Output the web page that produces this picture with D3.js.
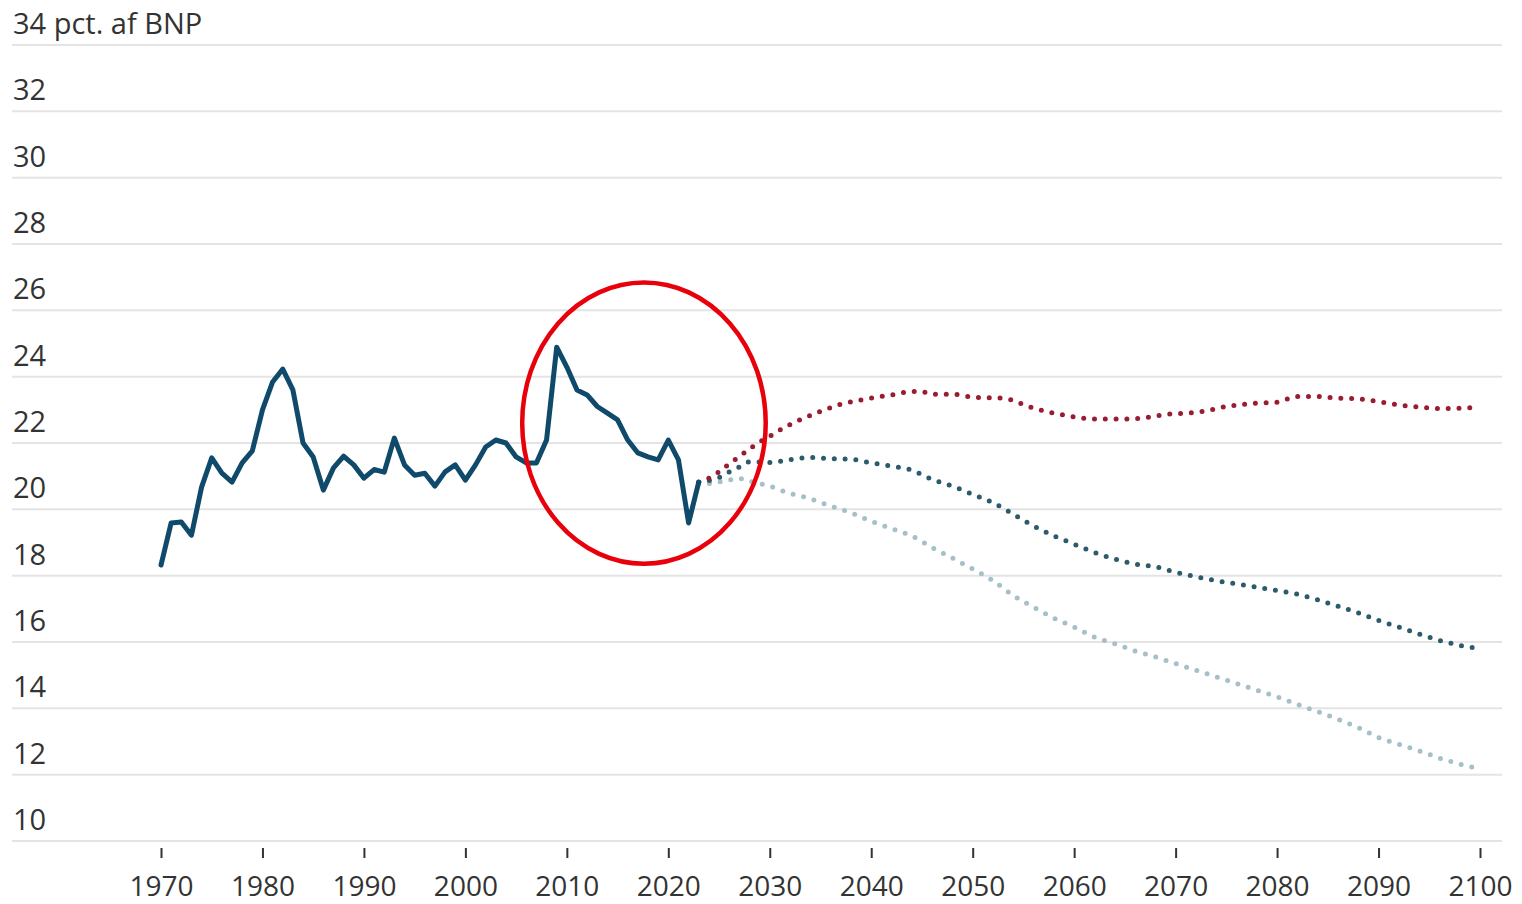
<!DOCTYPE html>
<html><head><meta charset="utf-8">
<script src="https://cdn.jsdelivr.net/npm/d3@7"></script>
<style>
html,body{margin:0;padding:0;background:#fff;}
svg{display:block;}
text{font-family:"Open Sans","Noto Sans",sans-serif;fill:#333;}
</style></head>
<body>
<svg id="chart" width="1522" height="904"></svg>
<script>
// ---- data ----
const yTicks = [10,12,14,16,18,20,22,24,26,28,30,32,34];
const xTicks = [1970,1980,1990,2000,2010,2020,2030,2040,2050,2060,2070,2080,2090,2100];
const unitLabel = "pct. af BNP";

const histYears = [1970,1971,1972,1973,1974,1975,1976,1977,1978,1979,1980,1981,1982,1983,1984,1985,1986,1987,1988,1989,1990,1991,1992,1993,1994,1995,1996,1997,1998,1999,2000,2001,2002,2003,2004,2005,2006,2007,2008,2009,2010,2011,2012,2013,2014,2015,2016,2017,2018,2019,2020,2021,2022,2023];
const histValues = [18.32,19.59,19.62,19.22,20.67,21.55,21.09,20.82,21.4,21.76,23.0,23.84,24.23,23.6,22.0,21.58,20.58,21.25,21.6,21.34,20.94,21.2,21.12,22.15,21.34,21.03,21.09,20.7,21.13,21.34,20.88,21.34,21.88,22.09,22.0,21.58,21.4,21.4,22.09,24.89,24.29,23.6,23.45,23.1,22.9,22.7,22.09,21.7,21.58,21.49,22.09,21.49,19.59,20.82];

const highYears = [2023,2024,2025,2026,2027,2028,2029,2030,2031,2033,2035,2037,2039,2042,2044,2045,2046,2048,2050,2053,2056,2058,2060,2062,2065,2067,2069,2071,2073,2075,2078,2080,2082,2084,2086,2088,2090,2092,2094,2096,2098,2100];
const highValues = [20.82,20.94,21.13,21.37,21.59,21.82,22.03,22.2,22.39,22.7,22.95,23.17,23.3,23.45,23.55,23.55,23.47,23.47,23.38,23.35,23.05,22.9,22.79,22.72,22.72,22.76,22.86,22.9,22.97,23.1,23.2,23.23,23.4,23.4,23.35,23.33,23.25,23.15,23.08,23.04,23.05,23.09];

const midYears = [2023,2025,2026,2027,2028,2029,2030,2032,2034,2036,2038,2040,2042,2044,2046,2048,2050,2052,2054,2056,2058,2060,2062,2064,2066,2068,2070,2072,2074,2076,2078,2080,2082,2084,2086,2088,2090,2092,2094,2096,2098,2100];
const midValues = [20.82,20.96,21.13,21.28,21.43,21.43,21.41,21.5,21.56,21.53,21.51,21.4,21.3,21.18,20.9,20.7,20.45,20.2,19.85,19.5,19.2,18.95,18.7,18.5,18.35,18.27,18.1,17.97,17.85,17.75,17.65,17.55,17.44,17.27,17.08,16.88,16.65,16.45,16.24,16.05,15.9,15.8];

const lowYears = [2023,2024,2025,2026,2027,2028,2030,2032,2034,2036,2038,2040,2042,2044,2046,2048,2050,2052,2054,2056,2058,2060,2062,2064,2066,2068,2070,2072,2074,2076,2078,2080,2082,2084,2086,2088,2090,2092,2094,2096,2098,2100];
const lowValues = [20.82,20.78,20.83,20.88,20.93,20.85,20.7,20.48,20.32,20.1,19.9,19.64,19.42,19.2,18.85,18.53,18.2,17.85,17.4,17.05,16.72,16.45,16.15,15.95,15.73,15.55,15.35,15.15,14.95,14.75,14.55,14.35,14.12,13.9,13.67,13.42,13.12,12.92,12.72,12.5,12.32,12.18];

// ---- layout ----
const svg = d3.select("#chart");
const x = d3.scaleLinear().domain([1970,2100]).range([161,1480]);
const y = d3.scaleLinear().domain([10,34]).range([841,45]);
const gridLeft = 12, gridRight = 1502;

// gridlines
svg.append("g").selectAll("line").data(yTicks).join("line")
  .attr("x1",gridLeft).attr("x2",gridRight)
  .attr("y1",d=>y(d)).attr("y2",d=>y(d))
  .attr("stroke","#e4e4e4").attr("stroke-width",2);

// y labels
svg.append("g").selectAll("text").data(yTicks).join("text")
  .attr("x",13).attr("y",d=>y(d)-11)
  .attr("font-size",29)
  .text(d=> d===34 ? d+" "+unitLabel : d);

// x axis ticks + labels
const xAxis = d3.axisBottom(x).tickValues(xTicks).tickFormat(d3.format("d"))
  .tickSize(10).tickPadding(18);
const gx = svg.append("g").attr("transform","translate(0,848)").call(xAxis);
gx.select(".domain").remove();
gx.selectAll(".tick line").attr("stroke","#333").attr("stroke-width",2);
gx.selectAll(".tick text").attr("font-size",28).attr("fill","#333")
  .attr("font-family","'Open Sans','Noto Sans',sans-serif");

// lines
const line = d3.line().x(d=>x(d[0])).y(d=>y(d[1])).curve(d3.curveLinear);
const smooth = d3.line().x(d=>x(d[0])).y(d=>y(d[1])).curve(d3.curveMonotoneX);
const zip = (a,b)=>a.map((v,i)=>[v,b[i]]);

const dotted = (ys, vs, color) => svg.append("path").datum(zip(ys,vs)).attr("d",smooth)
  .attr("fill","none").attr("stroke",color).attr("stroke-width",5)
  .attr("stroke-linecap","round").attr("stroke-dasharray","0,10.8");
dotted(lowYears, lowValues, "#a6c0ca");
dotted(midYears, midValues, "#2c5b6b");
dotted(highYears, highValues, "#981c32");

svg.append("path").datum(zip(histYears,histValues)).attr("d",line)
  .attr("fill","none").attr("stroke","#0f4a6a").attr("stroke-width",5)
  .attr("stroke-linejoin","round").attr("stroke-linecap","round");

// annotation circle
const cx = x(2017.6), cy = y(22.6);
svg.append("ellipse").attr("cx",cx).attr("cy",cy)
  .attr("rx", x(2017.6+12)-x(2017.6)).attr("ry", y(22.6-4.24)-y(22.6))
  .attr("fill","none").attr("stroke","#e8000b").attr("stroke-width",4.5);
</script>
</body></html>
